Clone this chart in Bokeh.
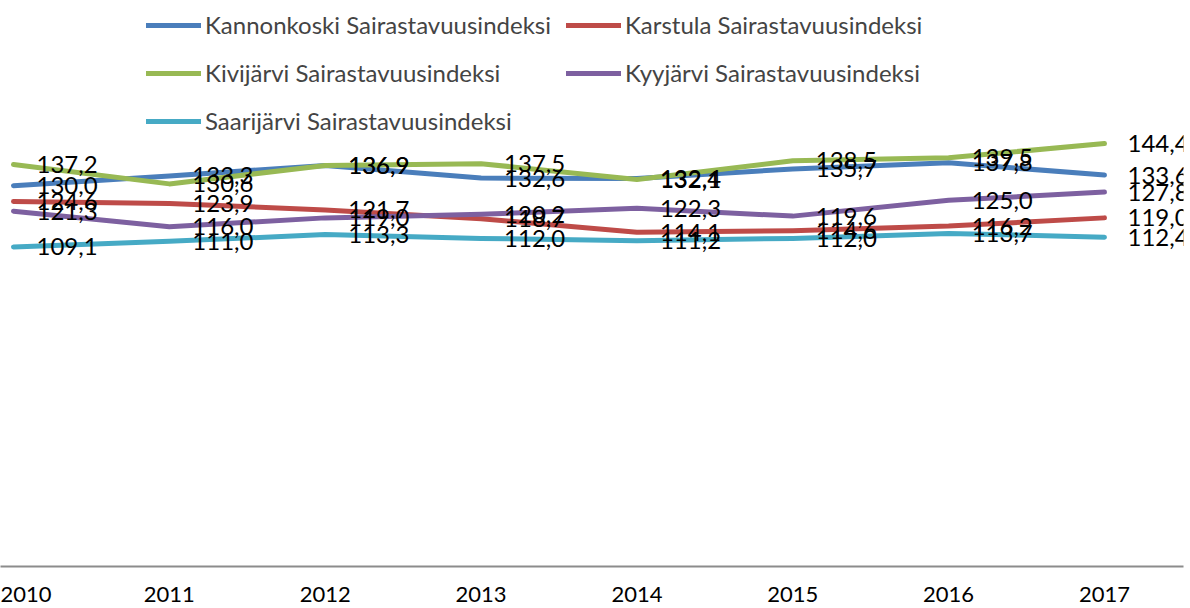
from bokeh.plotting import figure
from bokeh.models import ColumnDataSource, Legend, LegendItem, FixedTicker, Range1d
from bokeh.core.properties import value
from bokeh.embed import file_html
from bokeh.resources import INLINE

years = [2010, 2011, 2012, 2013, 2014, 2015, 2016, 2017]
series_names = [
    "Kannonkoski Sairastavuusindeksi",
    "Karstula Sairastavuusindeksi",
    "Kivijärvi Sairastavuusindeksi",
    "Kyyjärvi Sairastavuusindeksi",
    "Saarijärvi Sairastavuusindeksi",
]
kannonkoski = [130.0, 133.3, 136.9, 132.6, 132.4, 135.7, 137.8, 133.6]
karstula = [124.6, 123.9, 121.7, 118.7, 114.1, 114.6, 116.2, 119.0]
kivijarvi = [137.2, 130.6, 136.9, 137.5, 132.1, 138.5, 139.5, 144.4]
kyyjarvi = [121.3, 116.0, 119.0, 120.2, 122.3, 119.6, 125.0, 127.8]
saarijarvi = [109.1, 111.0, 113.3, 112.0, 111.2, 112.0, 113.7, 112.4]
colors = ["#4A7EBB", "#BE4B48", "#98B954", "#7D60A0", "#46AAC5"]

FONT = "Lato"

p = figure(width=1190, height=613, output_backend="svg", toolbar_location=None,
           x_range=Range1d(2009.9166, 2017.507), y_range=Range1d(0, 193.2),
           min_border_left=0, min_border_right=7, min_border_top=0, min_border_bottom=47)
p.outline_line_color = None
p.grid.visible = False
p.yaxis.visible = False
p.background_fill_color = "white"
p.border_fill_color = "white"

p.xaxis.ticker = FixedTicker(ticks=years)
p.xaxis.major_tick_line_color = None
p.xaxis.minor_tick_line_color = None
p.xaxis.axis_line_color = "#8C8C8C"
p.xaxis.axis_line_width = 2
p.xaxis.major_label_standoff = 14
p.xaxis.major_label_text_font = FONT
p.xaxis.major_label_text_font_size = "22px"
p.xaxis.major_label_text_color = "black"

all_series = [kannonkoski, karstula, kivijarvi, kyyjarvi, saarijarvi]
renderers = []
for vals, col in zip(all_series, colors):
    src = ColumnDataSource(dict(x=years, y=vals))
    r = p.line("x", "y", source=src, line_color=col, line_width=5, line_cap="round", line_join="round")
    renderers.append(r)

for vals in all_series:
    src = ColumnDataSource(dict(x=years, y=vals,
                                lab=[f"{v:.1f}".replace(".", ",") for v in vals]))
    p.text("x", "y", text="lab", source=src, x_offset=23, text_baseline="middle",
           text_font=value(FONT), text_font_size="24px", text_color="black")


def make_legend(idx, loc):
    its = [LegendItem(label=series_names[i], renderers=[renderers[i]]) for i in idx]
    return Legend(items=its, location=loc,
                  glyph_width=55, glyph_height=24, label_standoff=4, spacing=19,
                  padding=0, margin=0, border_line_color=None,
                  background_fill_alpha=0, label_text_font=FONT,
                  label_text_font_size="24px", label_height=24)


p.add_layout(make_legend([0, 2, 4], (146, 431)), "center")
p.add_layout(make_legend([1, 3], (566, 431 + 48)), "center")

open("out.html", "w").write(file_html(p, INLINE))
